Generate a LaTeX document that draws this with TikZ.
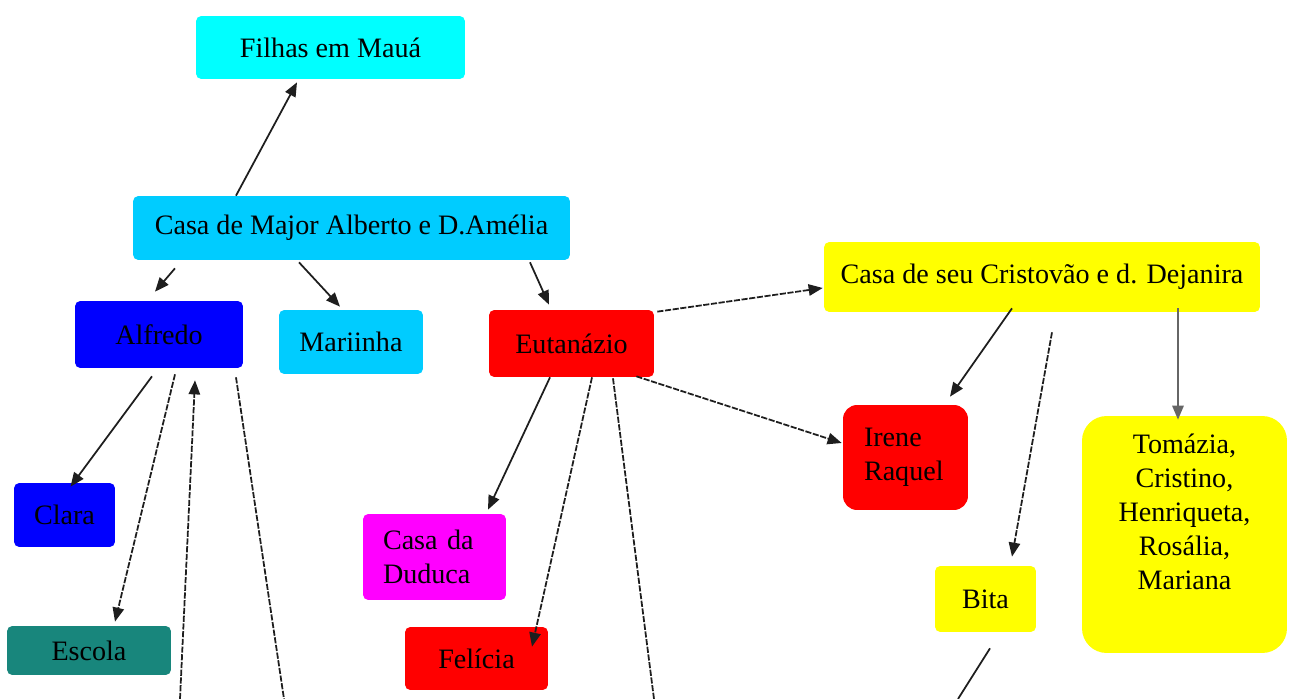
\documentclass[tikz,border=0pt]{standalone}
\usepackage{fontspec}
\setmainfont{Liberation Serif}
\usetikzlibrary{arrows.meta, calc}

\definecolor{cyanbox}{RGB}{0,255,255}
\definecolor{skybox}{RGB}{0,204,255}
\definecolor{bluebox}{RGB}{0,0,255}
\definecolor{redbox}{RGB}{255,0,0}
\definecolor{yellowbox}{RGB}{255,255,0}
\definecolor{pinkbox}{RGB}{255,0,255}
\definecolor{tealbox}{RGB}{24,134,124}
\definecolor{linkgray}{RGB}{30,30,30}

\tikzset{
  box/.style={rounded corners=3pt, inner sep=0pt, font=\fontsize{16}{19.3}\selectfont},
  link/.style={draw=linkgray, line width=1pt, -{Triangle[length=8pt,width=6.5pt]}},
  dashlink/.style={link, dash pattern=on 3.5pt off 0.9pt},
}

\begin{document}
\begin{tikzpicture}[x=0.02cm, y=-0.02cm]
\useasboundingbox (0,0) rectangle (1289,699);
%casa do major
\node[box, fill=cyanbox, minimum width=5.38cm, minimum height=1.26cm] (filhas) at (330.5,47.5) {Filhas em Mauá};
\node[box, fill=skybox, minimum width=8.74cm, minimum height=1.28cm] (major) at (351.5,228) {Casa de Major Alberto e D.Amélia};
\node[box, fill=bluebox, minimum width=3.36cm, minimum height=1.34cm] (alfredo) at (159,334.5) {Alfredo};
\node[box, fill=skybox, minimum width=2.88cm, minimum height=1.28cm] (mariinha) at (351,342) {Mariinha};
\node[box, fill=redbox, minimum width=3.30cm, minimum height=1.34cm] (eutanazio) at (571.5,343.5) {Eutanázio};
\node[box, fill=bluebox, minimum width=2.02cm, minimum height=1.28cm] (clara) at (64.5,515) {Clara};
\node[box, fill=tealbox, minimum width=3.28cm, minimum height=0.98cm] (escola) at (89,650.5) {Escola};
\node[box, fill=pinkbox, minimum width=2.86cm, minimum height=1.72cm, inner xsep=0.4cm, text width=2.06cm, align=left] (duduca) at (434.5,557) {Casa da\\Duduca};
\node[box, fill=redbox, minimum width=2.86cm, minimum height=1.26cm] (felicia) at (476.5,658.5) {Felícia};
%casa do cristovao
\node[box, fill=yellowbox, minimum width=8.72cm, minimum height=1.40cm] (cristovao) at (1042,277) {Casa de seu Cristovão e d. Dejanira};
\node[box, fill=redbox, rounded corners=8pt, minimum width=2.50cm, minimum height=2.10cm, inner xsep=0.42cm, text width=1.66cm, align=left] (irene) at (905.5,457.5) {Irene\\Raquel};
\node[box, fill=yellowbox, rounded corners=14pt, minimum width=4.10cm, minimum height=4.74cm] (tomazia) at (1184.5,534.5)
  {\raisebox{0.39cm}[\height][\depth]{\begin{tabular}{@{}c@{}}Tomázia,\\Cristino,\\Henriqueta,\\Rosália,\\Mariana\end{tabular}}};
\node[box, fill=yellowbox, minimum width=2.02cm, minimum height=1.32cm] (bita) at (985.5,599) {Bita};
%free ends at the bottom edge
\coordinate (alfin) at (180,699);
\coordinate (alfout) at (284,699);
\coordinate (eutout) at (654,699);
\coordinate (bitaout) at (958,699);
%links
\draw[link] ($(major.north)+(-115.5,0)$) -- ($(filhas.south)+(-33.5,3)$);
\draw[link] ($(major.south)+(-176.5,8)$) -- ($(alfredo.north)+(-4,-9)$);
\draw[link] ($(major.south)+(-52.5,2)$) -- ($(mariinha.north)+(-11,-3)$);
\draw[link] ($(major.south)+(178.5,2)$) -- ($(eutanazio.north)+(-22.5,-5)$);
\draw[link] ($(alfredo.south)+(-7,8)$) -- ($(clara.north)+(6,4)$);
\draw[dashlink] ($(alfredo.south)+(16,6)$) -- ($(escola.north)+(26,-4)$);
\draw[dashlink] (alfin) -- ($(alfredo.south)+(36,12)$);
\draw[dashlink, -] ($(alfredo.south)+(77,9)$) -- (alfout);
\draw[link] ($(eutanazio.south)+(-21.5,0)$) -- ($(duduca.north)+(53.5,-4)$);
\draw[dashlink] ($(eutanazio.south)+(20.5,0)$) -- ($(felicia.north)+(55.5,20)$);
\draw[dashlink, -] ($(eutanazio.south)+(41.5,1)$) -- (eutout);
\draw[dashlink] ($(eutanazio.north east)+(3,2)$) -- ($(cristovao.west)+(-1,11)$);
\draw[dashlink] ($(eutanazio.south east)+(-18,-1)$) -- ($(irene.west)+(-1,-14.5)$);
\draw[link] ($(cristovao.south)+(-30,-4)$) -- ($(irene.north)+(44.5,-8)$);
\draw[dashlink] ($(cristovao.south)+(10,20)$) -- ($(bita.north)+(26.5,-9)$);
\draw[link, draw=gray!80!black] ($(cristovao.south)+(136,-4)$) -- ($(tomazia.north)+(-6.5,4)$);
\draw[link, -] ($(bita.south)+(4.5,16)$) -- (bitaout);
\end{tikzpicture}
\end{document}
